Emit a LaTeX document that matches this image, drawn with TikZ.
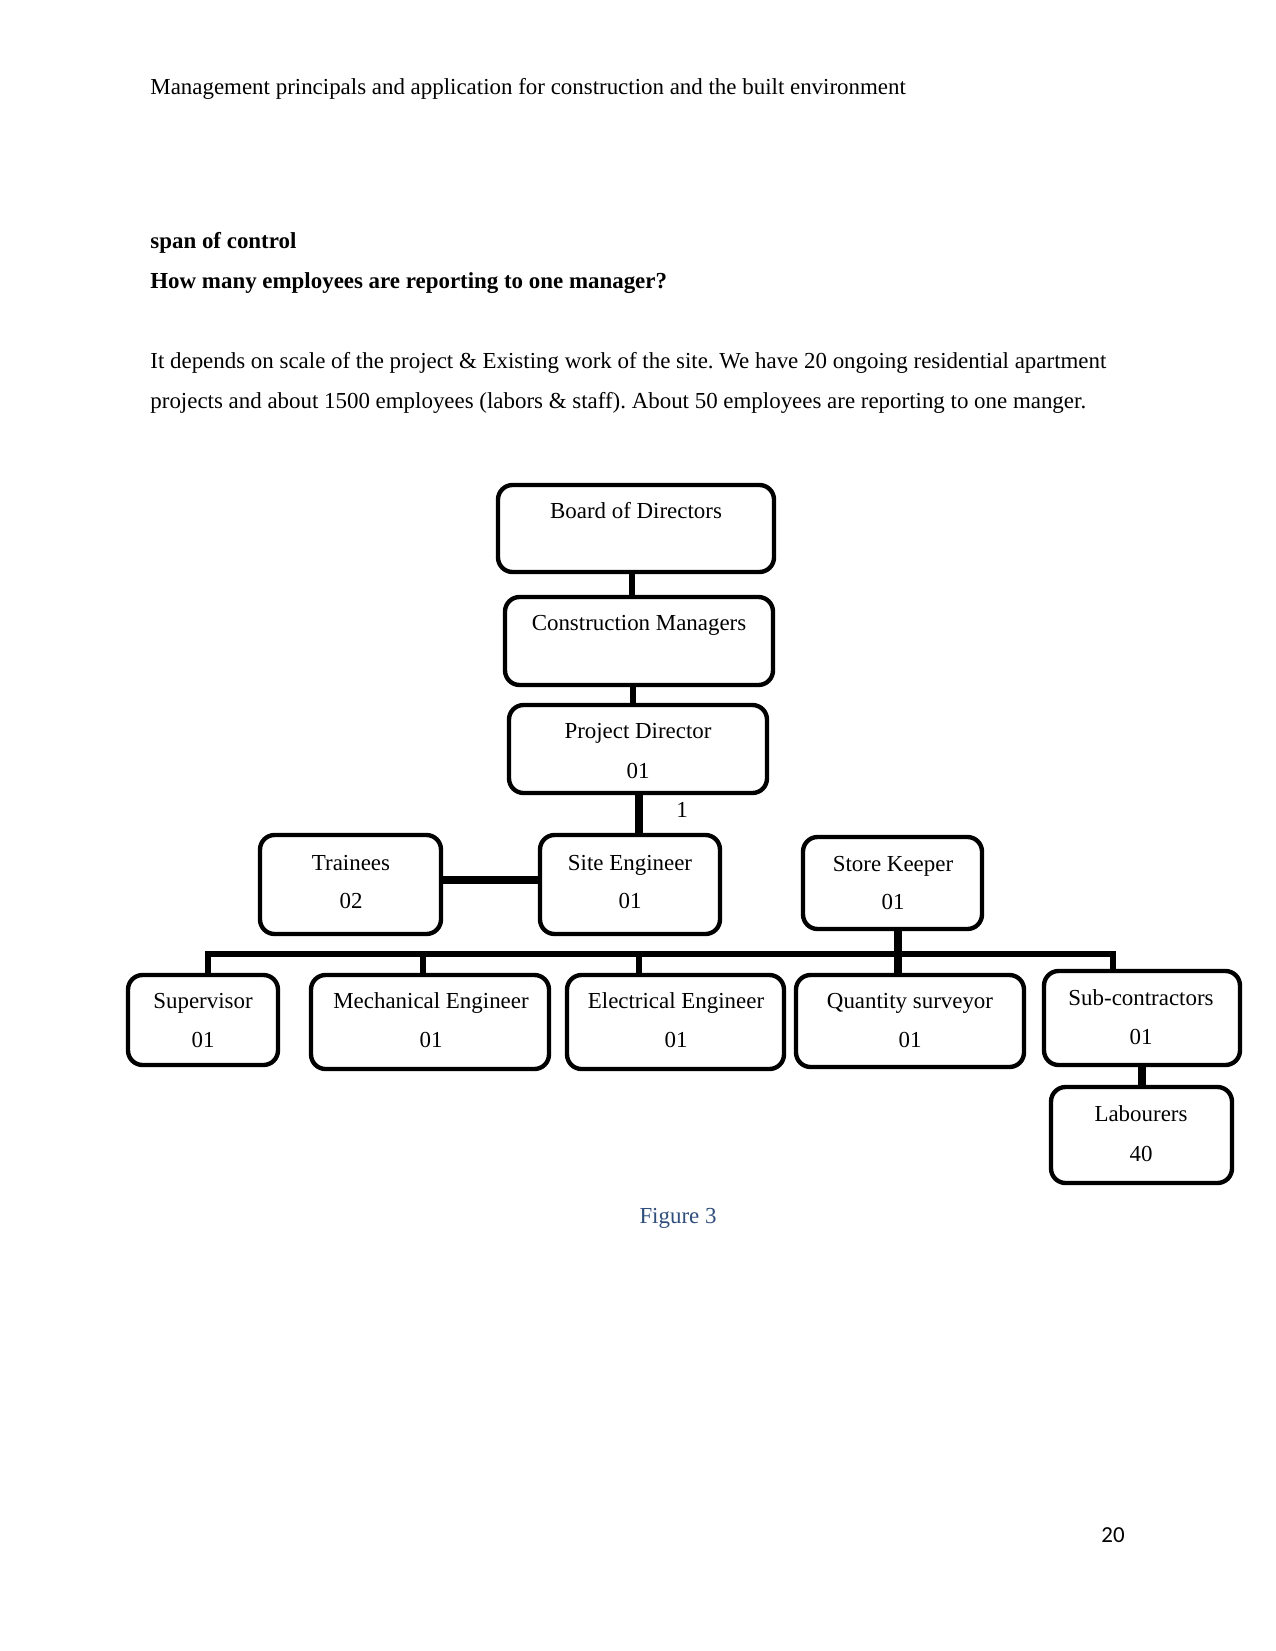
\documentclass[tikz,border=0pt]{standalone}
\usepackage{fontspec}
\setmainfont{Liberation Serif}
\newfontfamily\pagefont{Carlito}
\definecolor{capblue}{RGB}{47,78,124}
\frenchspacing
\tikzset{
  orgbox/.style={draw=black, line width=2.1pt, rounded corners=7pt, inner sep=0pt, fill=white},
  boxtext/.style={anchor=base, inner sep=0pt, font=\fontsize{11}{13}\selectfont},
  bodytext/.style={anchor=base west, inner sep=0pt, font=\fontsize{11}{13}\selectfont},
  link/.style={line width=2.9pt, line cap=butt},
  biglink/.style={line width=3.4pt, line cap=butt},
}
\newcommand\orgnode[5]{%
  \node[orgbox, minimum width={(#4-#2-4)*0.48pt}, minimum height={(#5-#3-4)*0.48pt}]
    (#1) at ({(#2+#4)/2},{(#3+#5)/2}) {};}
\begin{document}
\begin{tikzpicture}[x=0.48pt, y=-0.48pt]
\useasboundingbox[fill=white] (0,0) rectangle (1275,1651);

% page text
\node[bodytext] (hdr) at (150,95) {Management principals and application for construction and the built environment};
\node[bodytext, font=\fontsize{11}{13}\selectfont\bfseries] (span) at (150,248) {span of control};
\node[bodytext, font=\fontsize{11}{13}\selectfont\bfseries] (q) at (150,289) {How many employees are reporting to one manager?};
\node[bodytext] (p1) at (150,368) {It depends on scale of the project \& Existing work of the site. We have 20 ongoing residential apartment};
\node[bodytext] (p2) at (150,408) {projects and about 1500 employees (labors \& staff). About 50 employees are reporting to one manger.};

% connector positions
\coordinate (xa) at (632,0);
\coordinate (xb) at (633,0);
\coordinate (xc) at (639,0);
\coordinate (busL) at (208,954);
\coordinate (busR) at (1113,954);
\coordinate (xmech) at (423,0);
\coordinate (xelec) at (639,0);
\coordinate (xqs) at (898,0);
\coordinate (xlab) at (1142,0);
\coordinate (ytr) at (0,880);

% boxes
\orgnode{board}{496}{483}{776}{574}
\orgnode{cm}{503}{595}{775}{687}
\orgnode{pd}{507}{703}{769}{795}
\orgnode{tr}{258}{833}{443}{936}
\orgnode{se}{538}{833}{722}{936}
\orgnode{sk}{801}{835}{984}{931}
\orgnode{sup}{126}{973}{280}{1067}
\orgnode{mech}{309}{973}{551}{1071}
\orgnode{elec}{565}{973}{786}{1071}
\orgnode{qs}{794}{973}{1026}{1069}
\orgnode{sub}{1042}{969}{1242}{1067}
\orgnode{lab}{1049}{1085}{1234}{1185}

% connectors
\draw[link] (board.south -| xa) -- (cm.north -| xa);
\draw[link] (cm.south -| xb) -- (pd.north -| xb);
\draw[biglink] (pd.south -| xc) -- (se.north -| xc);
\draw[biglink] (tr.east |- ytr) -- (se.west |- ytr);
\draw[link, line join=miter] (sup.north -| busL) -- (busL) -- (busR) -- (sub.north -| busR);
\draw[link] (busL -| xmech) -- (mech.north -| xmech);
\draw[link] (busL -| xelec) -- (elec.north -| xelec);
\draw[biglink] (sk.south -| xqs) -- (qs.north -| xqs);
\draw[biglink] (sub.south -| xlab) -- (lab.north -| xlab);

% box texts
\node[boxtext] (t1) at (636,518) {Board of Directors};
\node[boxtext] (t2) at (639,630) {Construction Managers};
\node[boxtext] (t3) at (638,738) {Project Director};
\node[boxtext] (t3b) at (638,778) {01};
\node[boxtext] (one) at (682,817) {1};
\node[boxtext] (t4) at (351,870) {Trainees};
\node[boxtext] (t4b) at (351,908) {02};
\node[boxtext] (t5) at (630,870) {Site Engineer};
\node[boxtext] (t5b) at (630,908) {01};
\node[boxtext] (t6) at (893,871) {Store Keeper};
\node[boxtext] (t6b) at (893,909) {01};
\node[boxtext] (t7) at (203,1008) {Supervisor};
\node[boxtext] (t7b) at (203,1047) {01};
\node[boxtext] (t8) at (431,1008) {Mechanical Engineer};
\node[boxtext] (t8b) at (431,1047) {01};
\node[boxtext] (t9) at (676,1008) {Electrical Engineer};
\node[boxtext] (t9b) at (676,1047) {01};
\node[boxtext] (t10) at (910,1008) {Quantity surveyor};
\node[boxtext] (t10b) at (910,1047) {01};
\node[boxtext] (t11) at (1141,1005) {Sub-contractors};
\node[boxtext] (t11b) at (1141,1044) {01};
\node[boxtext] (t12) at (1141,1121) {Labourers};
\node[boxtext] (t12b) at (1141,1161) {40};

% caption and page number
\node[anchor=base, inner sep=0pt, text=capblue, font=\fontsize{11}{13}\selectfont] (fig) at (678,1223) {Figure 3};
\node[anchor=base, inner sep=0pt, font=\pagefont\fontsize{11}{13}\selectfont] (pg) at (1113,1542) {20};
\end{tikzpicture}
\end{document}
